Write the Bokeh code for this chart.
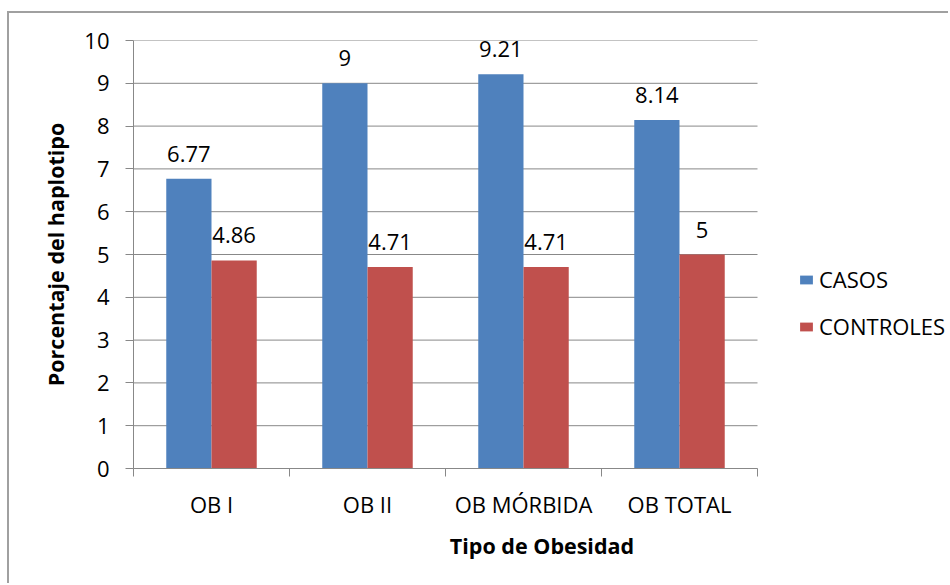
import numpy as np
from bokeh.plotting import figure
from bokeh.models import (ColumnDataSource, Range1d, FixedTicker, LabelSet,
                          Legend, LegendItem)
from bokeh.core.properties import value
from bokeh.transform import dodge
from bokeh.embed import file_html
from bokeh.resources import INLINE

categories = ["OB I", "OB II", "OB MÓRBIDA", "OB TOTAL"]
casos = [6.77, 9, 9.21, 8.14]
controles = [4.86, 4.71, 4.71, 5]
series_names = ["CASOS", "CONTROLES"]
y_ticks = list(range(0, 11))

FONT = "Open Sans"
BLUE = "#4F81BD"
RED = "#C0504D"
GRID = "#888888"
FS = "22px"
FS_TITLE = "21.5px"

n = len(categories)
xc = list(np.arange(n) + 0.5)
fmt = lambda v: "{:g}".format(v)
src = ColumnDataSource(dict(
    xc=xc, casos=casos, controles=controles,
    casos_txt=[fmt(v) for v in casos],
    controles_txt=[fmt(v) for v in controles],
))

W, H = 941, 572
LEFT, PLOT_W = 124, 624
frame_w = W - LEFT
x_end = n * frame_w / PLOT_W   # frame continues to the right for the legend

p = figure(width=W, height=H, output_backend="svg", toolbar_location=None,
           x_range=Range1d(0, x_end), y_range=Range1d(0, 10),
           min_border_left=LEFT, min_border_right=0,
           min_border_top=27, min_border_bottom=117,
           margin=(11, 0, 0, 7),
           styles={"border-left": "2px solid #a0a0a0",
                   "border-top": "2px solid #a0a0a0"})
p.outline_line_color = None
p.background_fill_color = "white"
p.border_fill_color = "white"

# horizontal grid lines, limited to the category span
p.segment(x0=0, x1=n, y0="y", y1="y", source=ColumnDataSource(dict(y=y_ticks)),
          line_color=GRID, line_width=1)

bw = 0.29
r1 = p.vbar(x=dodge("xc", -bw / 2), top="casos", width=bw, bottom=0,
            source=src, fill_color=BLUE, line_color=None)
r2 = p.vbar(x=dodge("xc", bw / 2), top="controles", width=bw, bottom=0,
            source=src, fill_color=RED, line_color=None)

for col, off in (("casos", -bw / 2), ("controles", bw / 2)):
    p.add_layout(LabelSet(x=dodge("xc", off), y=col, text=col + "_txt",
                          source=src, text_align="center",
                          text_baseline="bottom", y_offset=17,
                          text_font=value(FONT), text_font_size=value(FS),
                          text_color="black"))

# y axis
p.yaxis.ticker = FixedTicker(ticks=y_ticks)
p.yaxis.axis_line_color = GRID
p.yaxis.major_tick_line_color = GRID
p.yaxis.major_tick_out = 8
p.yaxis.major_tick_in = 0
p.yaxis.minor_tick_line_color = None
p.yaxis.major_label_standoff = 16
p.yaxis.major_label_text_font = FONT
p.yaxis.major_label_text_font_size = FS
p.yaxis.major_label_text_color = "black"
p.yaxis.axis_label = "Porcentaje del haplotipo"
p.yaxis.axis_label_text_font = FONT
p.yaxis.axis_label_text_font_style = "bold"
p.yaxis.axis_label_text_font_size = FS_TITLE
p.yaxis.axis_label_text_color = "black"
p.yaxis.axis_label_standoff = 11

# x axis
p.xaxis.bounds = (0, n)
p.xaxis.ticker = FixedTicker(ticks=xc, minor_ticks=list(range(n + 1)))
p.xaxis.major_label_overrides = {float(x): c for x, c in zip(xc, categories)}
p.xaxis.axis_line_color = GRID
p.xaxis.major_tick_line_color = None
p.xaxis.major_tick_out = 0
p.xaxis.major_tick_in = 0
p.xaxis.minor_tick_line_color = GRID
p.xaxis.minor_tick_out = 8
p.xaxis.minor_tick_in = 0
p.xaxis.major_label_standoff = 12
p.xaxis.major_label_text_font = FONT
p.xaxis.major_label_text_font_size = FS
p.xaxis.major_label_text_color = "black"
p.xaxis.axis_label = "Tipo de Obesidad"
p.xaxis.axis_label_text_font = FONT
p.xaxis.axis_label_text_font_style = "bold"
p.xaxis.axis_label_text_font_size = FS_TITLE
p.xaxis.axis_label_text_color = "black"
p.xaxis.axis_label_standoff = 9

p.xgrid.grid_line_color = None
p.ygrid.grid_line_color = None

legend = Legend(items=[LegendItem(label=series_names[0], renderers=[r1]),
                       LegendItem(label=series_names[1], renderers=[r2])],
                location=(665, 127), orientation="vertical",
                border_line_color=None, background_fill_alpha=0,
                padding=0, margin=0, spacing=17,
                glyph_width=16, glyph_height=11, label_standoff=5,
                label_text_font=FONT, label_text_font_size=FS,
                label_text_color="black")
p.add_layout(legend, "center")

open("out.html", "w").write(file_html(p, INLINE))
